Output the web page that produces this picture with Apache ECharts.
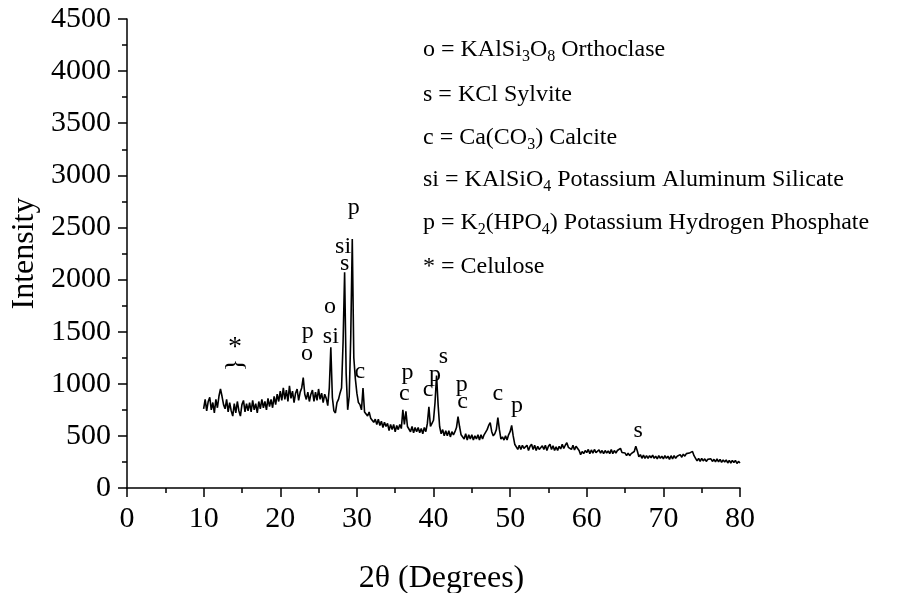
<!DOCTYPE html>
<html>
<head>
<meta charset="utf-8">
<script src="https://cdn.jsdelivr.net/npm/echarts@6/dist/echarts.min.js"></script>
<style>
html, body { margin: 0; padding: 0; background: #fff; }
#main { width: 898px; height: 593px; }
</style>
</head>
<body>
<div id="main"></div>
<script>
// XRD scan, 2theta from 10 to 80 deg, one reading every 0.2 deg
var startAngle = 10;
var stepAngle = 0.2;
var intensity = [
    760, 850, 740, 830, 870, 750, 820, 720, 850, 770,      // 10.0 - 11.8
    880, 950, 880, 800, 760, 850, 730, 820, 740, 690,      // 12.0 - 13.8
    810, 720, 830, 740, 690, 800, 840, 730, 810, 740,      // 14.0 - 15.8
    820, 730, 840, 750, 810, 720, 830, 760, 850, 770,      // 16.0 - 17.8
    830, 750, 860, 780, 850, 770, 880, 800, 900, 830,      // 18.0 - 19.8
    930, 840, 960, 850, 940, 830, 980, 860, 930, 820,      // 20.0 - 21.8
    910, 950, 840, 920, 960, 1060, 900, 850, 920, 830,     // 22.0 - 23.8
    900, 940, 830, 920, 840, 950, 850, 910, 820, 900,      // 24.0 - 25.8
    860, 790, 960, 1350, 870, 740, 720, 820, 850, 910,     // 26.0 - 27.8
    960, 1400, 2070, 1100, 750, 880, 1450, 2390, 1250, 1050, // 28.0 - 29.8
    910, 820, 800, 750, 960, 730, 730, 690, 730, 670,      // 30.0 - 31.8
    680, 630, 660, 610, 660, 600, 640, 580, 630, 590,      // 32.0 - 33.8
    620, 550, 610, 560, 610, 540, 600, 560, 610, 570,      // 34.0 - 35.8
    750, 610, 735, 590, 580, 540, 590, 530, 580, 540,      // 36.0 - 37.8
    580, 530, 570, 520, 580, 540, 620, 780, 590, 620,      // 38.0 - 39.8
    650, 820, 1080, 800, 590, 520, 560, 500, 550, 500,     // 40.0 - 41.8
    550, 490, 540, 510, 540, 580, 685, 590, 510, 520,      // 42.0 - 43.8
    470, 520, 460, 510, 470, 510, 460, 500, 470, 510,      // 44.0 - 45.8
    460, 510, 470, 510, 520, 560, 600, 627, 540, 500,      // 46.0 - 47.8
    520, 560, 675, 560, 470, 490, 460, 500, 460, 510,      // 48.0 - 49.8
    540, 600, 500, 420, 410, 370, 410, 370, 410, 380,      // 50.0 - 51.8
    370, 410, 360, 400, 420, 370, 410, 360, 400, 370,      // 52.0 - 53.8
    360, 405, 370, 410, 360, 400, 420, 370, 405, 360,      // 54.0 - 55.8
    395, 360, 400, 375, 420, 380, 410, 435, 390, 400,      // 56.0 - 57.8
    370, 410, 365, 400, 410, 360, 320, 350, 330, 360,      // 58.0 - 59.8
    340, 370, 330, 365, 335, 370, 340, 325, 365, 335,      // 60.0 - 61.8
    360, 330, 360, 335, 355, 330, 370, 330, 360, 335,      // 62.0 - 63.8
    360, 350, 380, 340, 325, 335, 310, 335, 310, 330,      // 64.0 - 65.8
    320, 350, 400, 355, 300, 320, 285, 315, 285, 310,      // 66.0 - 67.8
    285, 310, 290, 315, 285, 305, 280, 310, 285, 305,      // 68.0 - 69.8
    280, 310, 285, 305, 275, 310, 280, 310, 285, 305,      // 70.0 - 71.8
    295, 320, 295, 325, 305, 330, 315, 335, 335, 351,      // 72.0 - 73.8
    310, 285, 260, 285, 255, 285, 260, 280, 255, 275,      // 74.0 - 75.8
    260, 280, 255, 275, 250, 280, 250, 275, 245, 270,      // 76.0 - 77.8
    250, 270, 240, 265, 240, 265, 245, 265, 235, 255,      // 78.0 - 79.8
    240                                                    // 80.0
];

// phase marks above the peaks
var peakText  = ['*', '}', 'p', 'o', 'o', 'si', 'si', 's', 'p', 'c', 'c', 'p', 'c', 'p', 's', 'p', 'c', 'c', 'p', 's'];
var peakAngle = [14.1, 14.1, 23.6, 23.5, 26.5, 26.6, 28.2, 28.4, 29.6, 30.4, 36.2, 36.6, 39.3, 40.2, 41.3, 43.7, 43.8, 48.4, 50.9, 66.7];
var peakLevel = [1350, 1180, 1500, 1290, 1740, 1455, 2316, 2153, 2694, 1118, 904, 1106, 942, 1090, 1262, 987, 830, 904, 785, 551];

var legendLines = [
    '{t|o = KAlSi}{b|3}{t|O}{b|8}{t| Orthoclase}',
    '{t|s = KCl Sylvite}',
    '{t|c = Ca(CO}{b|3}{t|) Calcite}',
    '{t|si = KAlSiO}{b|4}{t| Potassium Aluminum Silicate}',
    '{t|p = K}{b|2}{t|(HPO}{b|4}{t|) Potassium Hydrogen Phosphate}',
    '{t|* = Celulose}'
];
var legendY = [50, 95, 138, 180, 223, 267];

var serif = 'Liberation Serif';

var scan = intensity.map(function (v, i) {
    return [+(startAngle + i * stepAngle).toFixed(1), v];
});
var marks = peakText.map(function (t, i) {
    return { name: t, value: [peakAngle[i], peakLevel[i]] };
});

var myChart = echarts.init(document.getElementById('main'));

var graphics = legendLines.map(function (line, i) {
    return {
        type: 'text',
        x: 423,
        y: legendY[i],
        style: {
            text: line,
            verticalAlign: 'middle',
            rich: {
                t: { fontFamily: serif, fontSize: 24, lineHeight: 30, color: '#000' },
                b: { fontFamily: serif, fontSize: 16, lineHeight: 16, verticalAlign: 'bottom', color: '#000' }
            }
        }
    };
});

var axisCommon = {
    axisLine: { show: true, lineStyle: { color: '#000', width: 1.5 } },
    axisTick: { show: true, inside: false, length: 9, lineStyle: { color: '#000', width: 1.5 } },
    minorTick: { show: true, splitNumber: 2, length: 5, lineStyle: { color: '#000', width: 1.5 } },
    splitLine: { show: false },
    axisLabel: {
        color: '#000', fontFamily: serif, fontSize: 30, margin: 16,
        formatter: function (v) { return String(v); }
    },
    nameTextStyle: { color: '#000', fontFamily: serif, fontSize: 32 }
};

var option = {
    animation: false,
    backgroundColor: '#fff',
    grid: { left: 127, right: 158, top: 19, bottom: 105, outerBoundsMode: 'none' },
    xAxis: Object.assign({}, axisCommon, {
        type: 'value',
        min: 0,
        max: 80,
        interval: 10,
        name: '2θ (Degrees)',
        nameLocation: 'middle',
        nameGap: 75,
        nameTextStyle: { color: '#000', fontFamily: serif, fontSize: 32, padding: [0, 0, 0, 16] }
    }),
    yAxis: Object.assign({}, axisCommon, {
        type: 'value',
        min: 0,
        max: 4500,
        interval: 500,
        name: 'Intensity',
        nameLocation: 'middle',
        nameRotate: 90,
        nameGap: 86
    }),
    graphic: graphics,
    series: [
        {
            type: 'line',
            data: scan,
            showSymbol: false,
            symbol: 'none',
            lineStyle: { color: '#000', width: 1.6 },
            z: 2
        },
        {
            type: 'scatter',
            data: marks,
            symbolSize: 0,
            itemStyle: { color: '#000', opacity: 1 },
            label: {
                show: true,
                position: 'inside',
                color: '#000',
                opacity: 1,
                textBorderWidth: 0,
                fontFamily: serif,
                fontSize: 24,
                formatter: function (p) { return p.name; }
            },
            z: 3
        }
    ]
};

// the star is a little larger, and the brace under it lies on its side
option.series[1].data[0].label = { fontSize: 28 };
option.series[1].data[1].label = { rotate: 90, fontSize: 26 };

myChart.setOption(option);
</script>
</body>
</html>
